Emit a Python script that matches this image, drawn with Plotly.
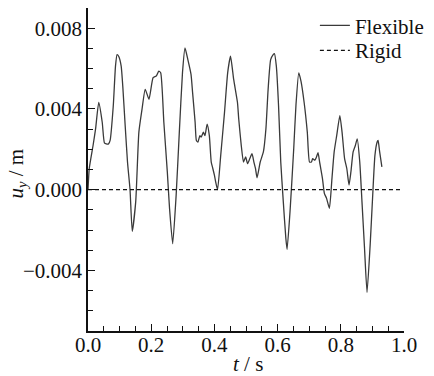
import plotly.graph_objects as go

# Flexible response
t_flex = [0.000, 0.004, 0.016, 0.024, 0.034, 0.045, 0.052, 0.058, 0.065, 0.070,
          0.080, 0.087, 0.092, 0.097, 0.105, 0.110, 0.117, 0.125, 0.133, 0.140,
          0.151, 0.161, 0.171, 0.181, 0.193, 0.206, 0.216, 0.224, 0.230, 0.240,
          0.251, 0.258, 0.268, 0.279, 0.289, 0.299, 0.307, 0.316, 0.326, 0.331,
          0.339, 0.343, 0.348, 0.354, 0.358, 0.365, 0.370, 0.377, 0.384, 0.390,
          0.395, 0.400, 0.404, 0.410, 0.420, 0.432, 0.442, 0.451, 0.461, 0.473,
          0.477, 0.485, 0.492, 0.499, 0.505, 0.512, 0.519, 0.525, 0.530, 0.535,
          0.545, 0.555, 0.563, 0.570, 0.578, 0.586, 0.590, 0.596, 0.603, 0.610,
          0.618, 0.626, 0.630, 0.640, 0.651, 0.658, 0.667, 0.674, 0.684, 0.694,
          0.701, 0.707, 0.711, 0.718, 0.723, 0.728, 0.733, 0.742, 0.748, 0.755,
          0.764, 0.772, 0.779, 0.787, 0.797, 0.804, 0.812, 0.819, 0.826, 0.832,
          0.839, 0.846, 0.852, 0.860, 0.867, 0.875, 0.883, 0.893, 0.901, 0.908,
          0.915, 0.918, 0.923, 0.930]
u_flex = [0.00000, 0.00105, 0.00219, 0.00301, 0.00432, 0.00334, 0.00232, 0.00227, 0.00227, 0.00244,
          0.00416, 0.00612, 0.00669, 0.00661, 0.00612, 0.00514, 0.00334, 0.00137, 0.00000, -0.00206,
          -0.00059, 0.00285, 0.00399, 0.00497, 0.00448, 0.00555, 0.00563, 0.00587, 0.00579, 0.00334,
          0.00088, -0.00092, -0.00268, -0.00026, 0.00285, 0.00579, 0.00702, 0.00644, 0.00571, 0.00481,
          0.00334, 0.00244, 0.00236, 0.00268, 0.00260, 0.00285, 0.00268, 0.00325, 0.00268, 0.00137,
          0.00105, 0.00072, 0.00039, 0.00000, 0.00170, 0.00383, 0.00579, 0.00661, 0.00546, 0.00432,
          0.00350, 0.00219, 0.00137, 0.00162, 0.00129, 0.00154, 0.00178, 0.00137, 0.00105, 0.00059,
          0.00137, 0.00187, 0.00301, 0.00497, 0.00644, 0.00669, 0.00674, 0.00612, 0.00416, 0.00137,
          -0.00059, -0.00239, -0.00296, -0.00092, 0.00203, 0.00416, 0.00579, 0.00538, 0.00432, 0.00285,
          0.00137, 0.00137, 0.00154, 0.00146, 0.00162, 0.00183, 0.00137, 0.00055, -0.00018, -0.00043,
          -0.00092, 0.00055, 0.00187, 0.00268, 0.00367, 0.00285, 0.00154, 0.00105, 0.00023, 0.00088,
          0.00187, 0.00219, 0.00252, 0.00137, -0.00059, -0.00288, -0.00509, -0.00271, -0.00026, 0.00170,
          0.00236, 0.00244, 0.00187, 0.00113]

# Rigid response
t_rigid = [0.0, 0.99]
u_rigid = [0.0, 0.0]

x_ticks = [0.0, 0.2, 0.4, 0.6, 0.8, 1.0]
x_ticktext = ["0.0", "0.2", "0.4", "0.6", "0.8", "1.0"]
y_ticks = [-0.004, 0.0, 0.004, 0.008]
y_ticktext = ["\u22120.004", "0.000", "0.004", "0.008"]

FONT = "Liberation Serif, Times New Roman, serif"
TICKFONT = dict(family=FONT, size=21, color="#111111")

fig = go.Figure()
fig.add_trace(go.Scatter(x=t_flex, y=u_flex, mode="lines", name="Flexible",
                         line=dict(color="#3a3a3a", width=1.3, shape="spline", smoothing=0.5),
                         legend="legend"))
fig.add_trace(go.Scatter(x=t_rigid, y=u_rigid, mode="lines", name="Rigid",
                         line=dict(color="#111111", width=1.3, dash="4px,3px"),
                         legend="legend2"))

leg_common = dict(xanchor="left", yanchor="middle", bgcolor="rgba(0,0,0,0)",
                  font=TICKFONT, borderwidth=0)

fig.update_layout(
    width=434, height=376,
    margin=dict(l=88, r=16, t=5, b=45),
    paper_bgcolor="white", plot_bgcolor="white",
    font=TICKFONT,
    showlegend=True,
    legend=dict(x=0.718, y=0.945, **leg_common),
    legend2=dict(x=0.718, y=0.868, **leg_common),
    xaxis=dict(range=[0, 1.0], tickvals=x_ticks, ticktext=x_ticktext,
               tickfont=TICKFONT,
               ticks="inside", ticklen=7, tickwidth=1.3, tickcolor="#111",
               ticklabelstandoff=-6,
               minor=dict(ticks="inside", dtick=0.05, tick0=0, ticklen=5,
                          tickwidth=1.3, tickcolor="#111"),
               showline=True, linecolor="#111", linewidth=1.5,
               showgrid=False, zeroline=False, automargin=False),
    yaxis=dict(range=[-0.007, 0.009], tickvals=y_ticks, ticktext=y_ticktext,
               tickfont=TICKFONT,
               ticks="inside", ticklen=7, tickwidth=1.3, tickcolor="#111",
               minor=dict(ticks="inside", dtick=0.001, tick0=0, ticklen=5,
                          tickwidth=1.3, tickcolor="#111"),
               showline=True, linecolor="#111", linewidth=1.5,
               showgrid=False, zeroline=False, automargin=False),
    annotations=[
        dict(text="<i>u</i><sub><i>y</i></sub> / m", xref="paper", yref="paper",
             x=-0.224, y=0.488, textangle=-90, showarrow=False,
             xanchor="center", yanchor="middle", font=TICKFONT),
        dict(text="<i>t</i> / s", xref="paper", yref="paper",
             x=0.505, y=-0.101, showarrow=False,
             xanchor="center", yanchor="middle", font=TICKFONT),
    ],
)

fig.write_html("out.html", config={"displayModeBar": False},
               post_script="document.body.style.margin='0';document.body.style.overflow='hidden';")
